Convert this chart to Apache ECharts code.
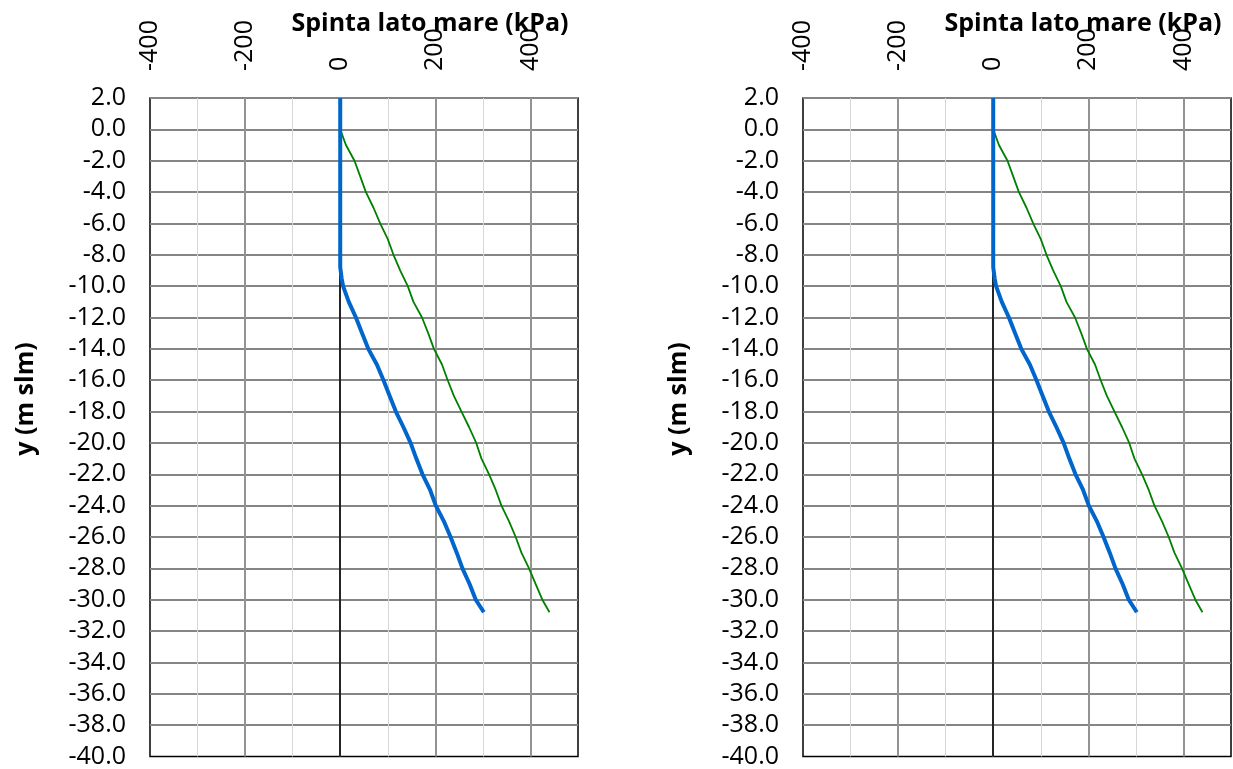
<!DOCTYPE html>
<html>
<head>
<meta charset="utf-8">
<title>Spinta lato mare</title>
<script src="https://cdn.jsdelivr.net/npm/echarts@6/dist/echarts.min.js"></script>
<style>
  html, body { margin: 0; padding: 0; background: #ffffff; }
  #chart { width: 1233px; height: 769px; }
</style>
</head>
<body>
<div id="chart"></div>
<script>
// Elevation (m slm) of each profile point
const depthBlue = [2, 0, -2, -4, -6, -8, -8.8, -9.5, -10, -11, -12, -13, -14, -15, -16, -17, -18, -19, -20, -21, -22, -23, -24, -25, -26, -27, -28, -29, -30, -30.8];
// Thrust on the sea side (kPa), thick blue profile
const thrustBlue = [0, 0, 0, 0, 0, 0, 0, 3, 6, 18, 33, 46, 59, 77, 91, 104, 117, 133, 148, 160, 173, 189, 201, 218, 232, 245, 257, 272, 285, 302];

const depthGreen = [2, 0, -1, -2, -3, -4, -5, -6, -7, -8, -9, -10, -11, -12, -13, -14, -15, -16, -17, -18, -19, -20, -21, -22, -23, -24, -25, -26, -27, -28, -29, -30, -30.8];
// Thrust on the sea side (kPa), thin green profile
const thrustGreen = [0, 0, 12, 30, 42, 54, 70, 84, 100, 112, 126, 142, 154, 172, 185, 197, 214, 226, 239, 255, 271, 286, 297, 313, 327, 339, 355, 369, 381, 397, 411, 425, 440];

const xTitle = 'Spinta lato mare (kPa)';
const yTitle = 'y (m slm)';

const FONT = '"Open Sans", "Liberation Sans", sans-serif';

function pairs(xs, ys) {
  return xs.map((v, i) => [v, ys[i]]);
}

const panels = [
  { left: 150, width: 428 },
  { left: 803, width: 428 }
];
const TOP = 98, HEIGHT = 662;

const grids = [], xAxes = [], yAxes = [], series = [], graphics = [];

panels.forEach((p, i) => {
  grids.push({
    left: p.left, top: TOP, width: p.width, height: HEIGHT,
    show: true, borderColor: '#000000', borderWidth: 1.5,
    backgroundColor: 'transparent', containLabel: false
  });
  xAxes.push({
    type: 'value', gridIndex: i, position: 'top',
    min: -400, max: 500, interval: 200,
    axisLine: { show: false },
    axisTick: { show: false },
    axisLabel: {
      rotate: 90, margin: 27, color: '#000000',
      fontFamily: FONT, fontSize: 25, showMaxLabel: false
    },
    splitLine: {
      show: true, showMinLine: false, showMaxLine: false,
      lineStyle: { color: '#939393', width: 2 }
    },
    minorTick: { show: false, splitNumber: 2 },
    minorSplitLine: { show: true, lineStyle: { color: '#d6d6d6', width: 1 } }
  });
  yAxes.push({
    type: 'value', gridIndex: i,
    min: -40, max: 2, interval: 2,
    axisLine: { show: false },
    axisTick: { show: false },
    axisLabel: {
      margin: 24, color: '#000000', fontFamily: FONT, fontSize: 25,
      formatter: v => v.toFixed(1)
    },
    splitLine: {
      show: true, showMinLine: false,
      lineStyle: { color: '#858585', width: 2 }
    }
  });
  series.push({
    type: 'line', xAxisIndex: i, yAxisIndex: i,
    data: pairs(thrustGreen, depthGreen),
    showSymbol: false, symbol: 'none', z: 3,
    lineStyle: { color: '#008000', width: 1.8 },
    markLine: {
      silent: true, symbol: ['none', 'none'], label: { show: false },
      lineStyle: { color: '#000000', width: 1.5, type: 'solid' },
      data: [{ xAxis: 0 }], z: 2
    }
  });
  series.push({
    type: 'line', xAxisIndex: i, yAxisIndex: i,
    data: pairs(thrustBlue, depthBlue),
    showSymbol: false, symbol: 'none', z: 4,
    lineStyle: { color: '#0066cc', width: 4 }
  });
  graphics.push({
    type: 'text', x: p.left + 280, y: 24,
    style: {
      text: xTitle, fontFamily: FONT, fontWeight: 'bold', fontSize: 25,
      fill: '#000000', textAlign: 'center', textVerticalAlign: 'middle'
    }
  });
  graphics.push({
    type: 'text', x: p.left - 124, y: 399, rotation: Math.PI / 2,
    style: {
      text: yTitle, fontFamily: FONT, fontWeight: 'bold', fontSize: 25,
      fill: '#000000', textAlign: 'center', textVerticalAlign: 'middle'
    }
  });
});

const chart = echarts.init(document.getElementById('chart'), null, { renderer: 'canvas' });
chart.setOption({
  animation: false,
  backgroundColor: '#ffffff',
  grid: grids,
  xAxis: xAxes,
  yAxis: yAxes,
  series: series,
  graphic: graphics
});
</script>
</body>
</html>
